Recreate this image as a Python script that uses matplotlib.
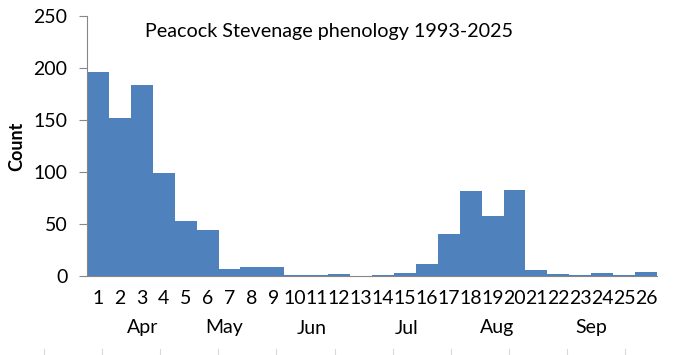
import numpy as np
import matplotlib.pyplot as plt

plt.rcParams['font.family'] = ['Lato', 'DejaVu Sans']

weeks = list(range(1, 27))
counts = [196, 152, 184, 99, 53, 44, 7, 9, 9, 1, 0.5, 2, 0,
          1, 3, 12, 40, 82, 58, 83, 6, 2, 0.5, 3, 1, 4]
months = ['Apr', 'May', 'Jun', 'Jul', 'Aug', 'Sep']
month_pos = [3.05, 6.75, 10.75, 15.1, 19.2, 23.5]

fig = plt.figure(figsize=(6.74, 3.55), dpi=100)
ax = fig.add_axes([87 / 674, 79 / 355, 570 / 674, 260 / 355])

ax.bar(weeks, counts, width=1.0, color='#4F81BD', edgecolor='none')

ax.set_xlim(0.5, 26.5)
ax.set_ylim(0, 250)
ax.set_yticks(np.arange(0, 251, 50))
ax.set_xticks(weeks)
ax.set_xticklabels([str(w) for w in weeks], fontsize=14)
ax.tick_params(axis='x', length=0, pad=10)
ax.tick_params(axis='y', labelsize=14, length=6, color='#868686', width=0.8, pad=8)

for s in ['top', 'right']:
    ax.spines[s].set_visible(False)
ax.spines['left'].set_color('#868686')
ax.spines['bottom'].set_color('#868686')

ax.set_ylabel('Count', fontsize=13, fontweight='bold', labelpad=6)

for m, p in zip(months, month_pos):
    ax.text(p, -0.2, m, transform=ax.get_xaxis_transform(),
            ha='center', va='center', fontsize=14)

fig.text(145 / 674, 1 - 31 / 355, 'Peacock Stevenage phenology 1993-2025',
         fontsize=14.2, va='center', ha='left')

# faint tick stubs along the bottom edge
for px in np.arange(44, 630, 58.1):
    fig.add_artist(plt.Line2D([px / 674, px / 674], [0, 6 / 355],
                              color='#d9d9d9', lw=0.8))

fig.savefig('out.png', dpi=100)
